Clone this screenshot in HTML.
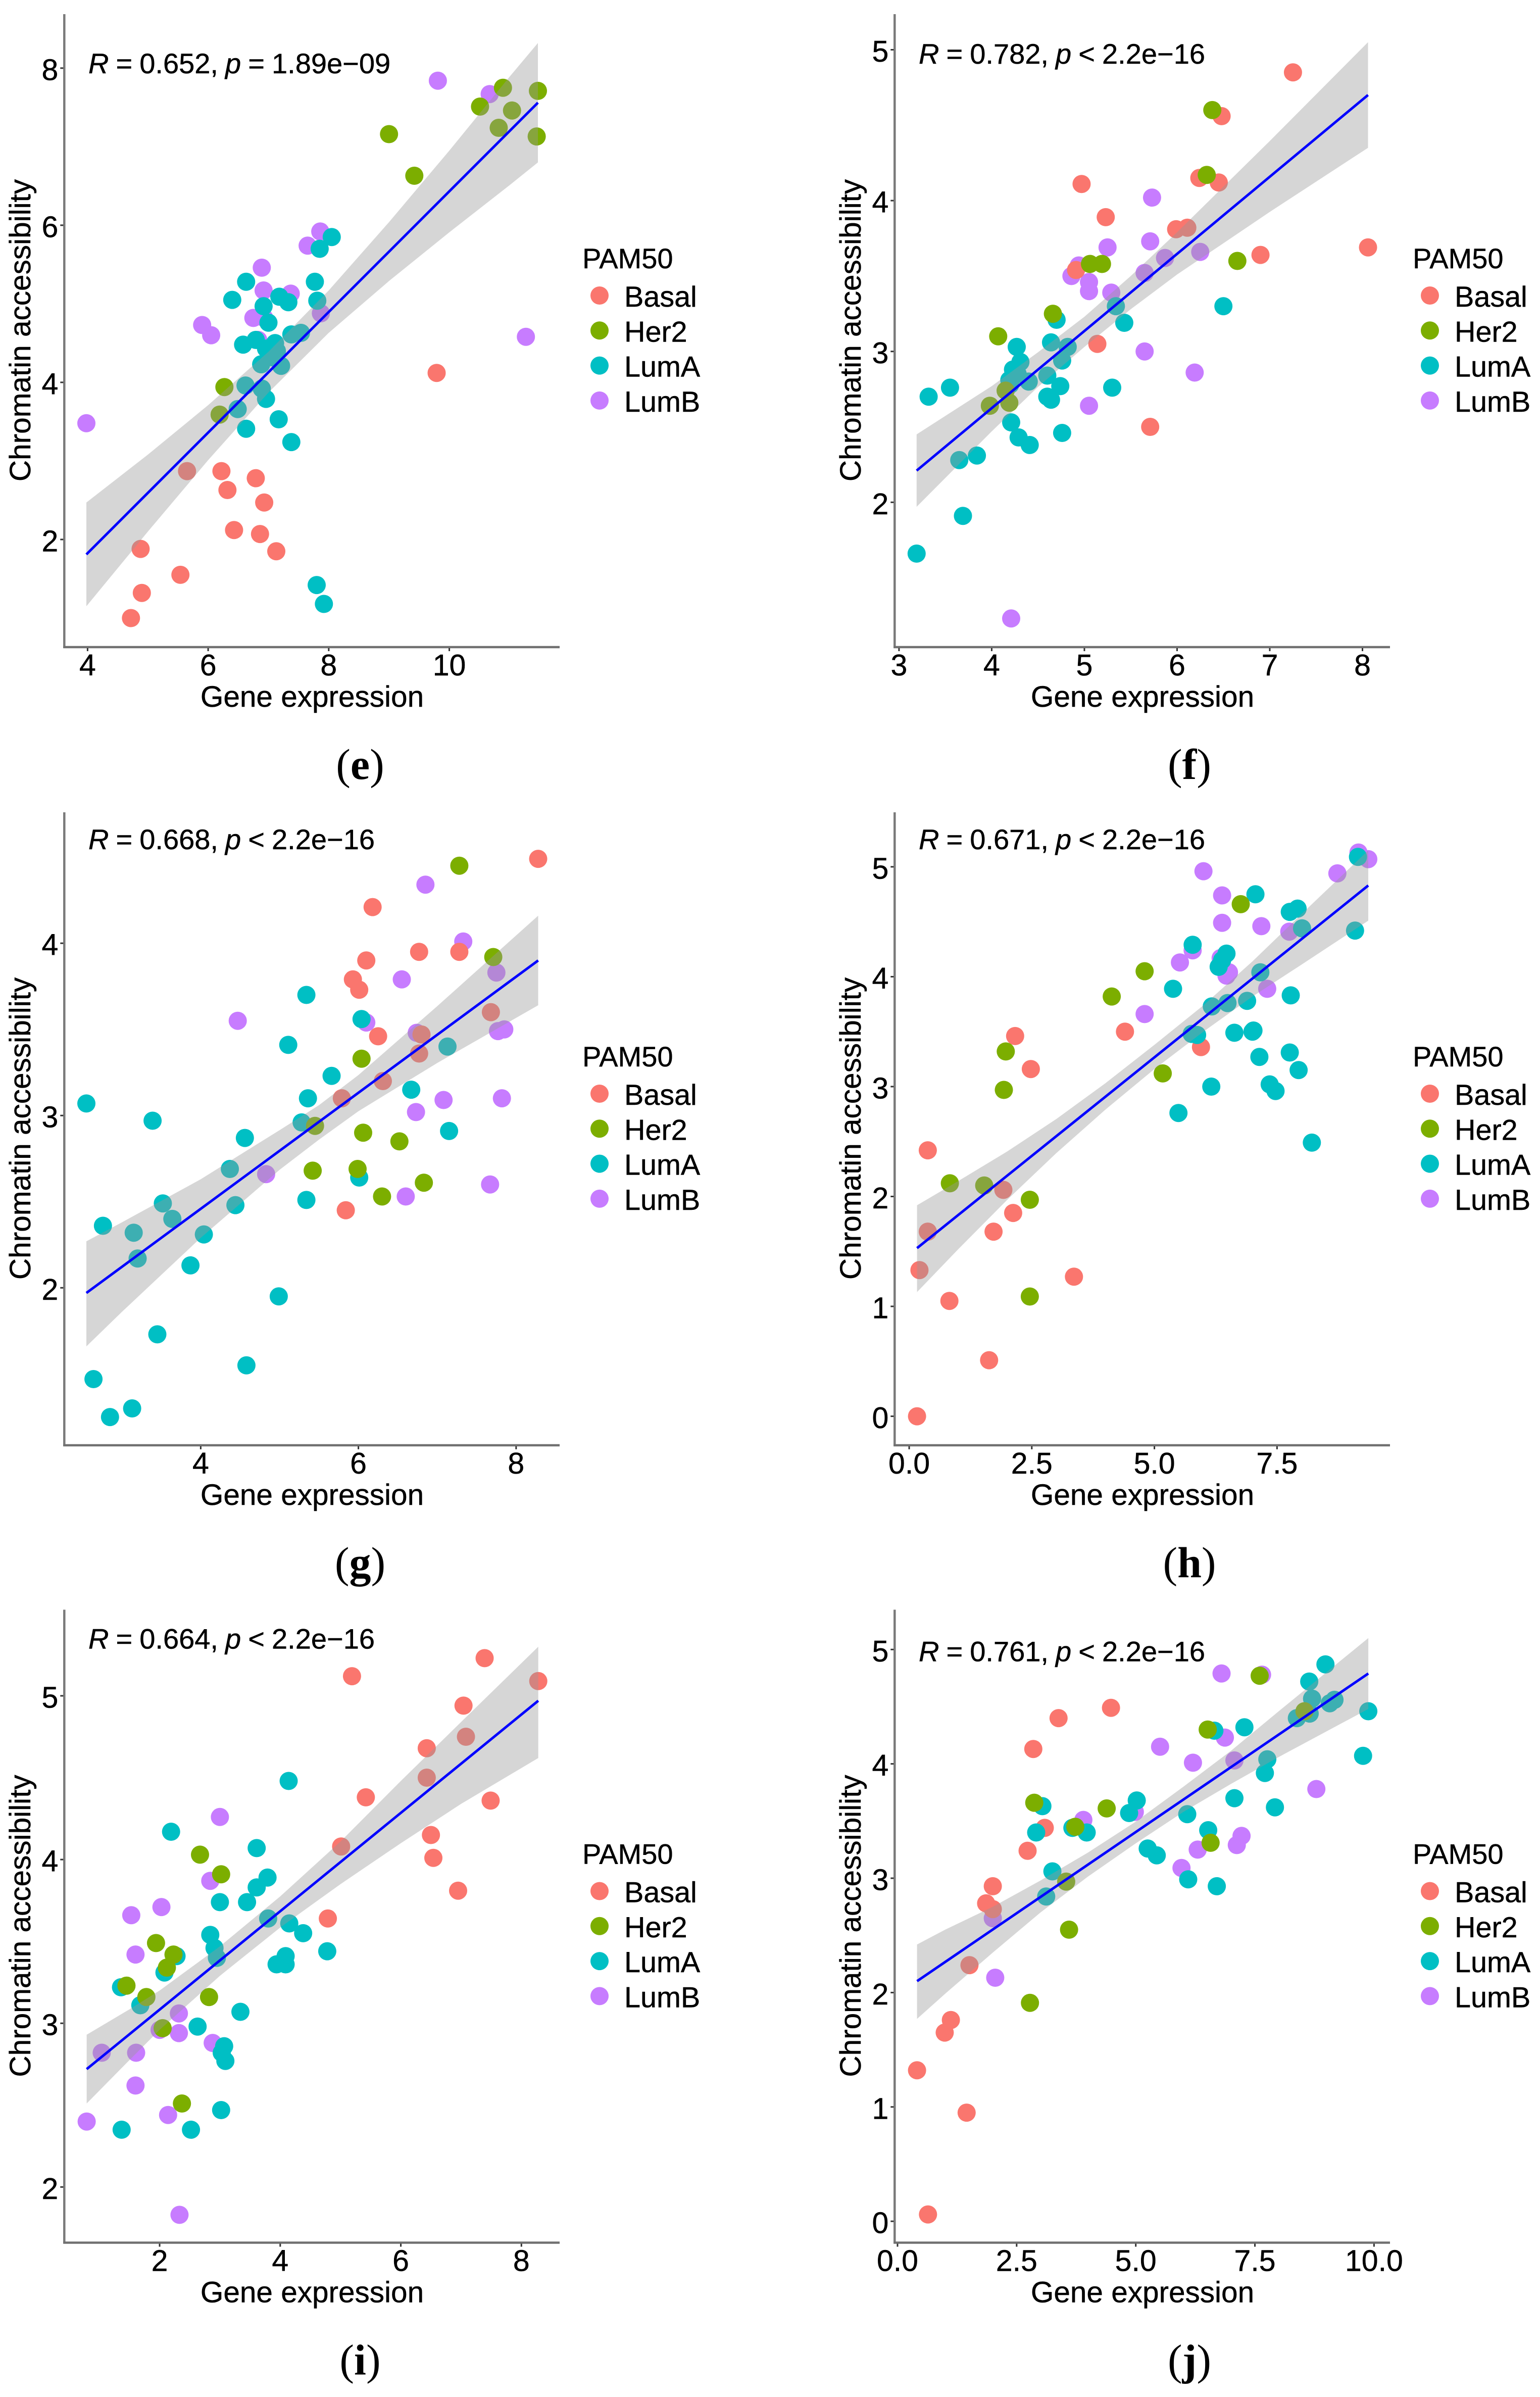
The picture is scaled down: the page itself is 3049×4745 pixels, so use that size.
<!DOCTYPE html>
<html lang="en">
<head>
<meta charset="utf-8">
<title>Gene expression vs chromatin accessibility, panels e–j</title>
<style>
html,body{margin:0;padding:0;background:#fff;}
body{width:3049px;height:4745px;overflow:hidden;}
svg{display:block;}
text{font-family:"Liberation Sans",Arial,sans-serif;fill:#000;stroke:#000;stroke-width:0.5px;}
text.cap{font-family:"Liberation Serif",serif;font-size:86px;stroke:none;}
</style>
</head>
<body>
<svg id="figure" xmlns="http://www.w3.org/2000/svg" width="3049" height="4745" viewBox="0 0 3049 4745"></svg>
<script>
// ---------- Panel e ----------
const eStat=['0.652','=','1.89e\u221209'];
const eXDomain=[3.614,11.83];
const eYDomain=[0.63,8.687];
const eXTicks=['4','6','8','10'];
const eYTicks=['2','4','6','8'];
const eBasalX=[9.79,5.65,6.22,6.32,6.79,6.93,6.43,6.86,7.13,4.88,4.90,5.54,4.72];
const eBasalY=[4.12,2.87,2.87,2.63,2.78,2.47,2.12,2.07,1.85,1.88,1.32,1.55,1.00];
const eHer2X=[10.89,11.47,10.51,11.04,10.82,11.45,9.00,9.42,6.27,6.19];
const eHer2Y=[7.75,7.71,7.51,7.46,7.24,7.13,7.16,6.63,3.94,3.59];
const eLumAX=[8.05,7.85,7.77,6.63,6.40,7.81,7.18,7.33,6.92,7.00,6.79,6.58,7.11,7.38,7.54,6.96,7.14,7.06,6.88,7.21,6.62,6.89,6.96,6.49,6.63,7.17,7.38,7.80,7.92];
const eLumAY=[5.85,5.70,5.28,5.28,5.05,5.04,5.09,5.02,4.97,4.76,4.54,4.48,4.50,4.61,4.63,4.43,4.40,4.32,4.23,4.21,3.96,3.92,3.79,3.66,3.41,3.53,3.24,1.42,1.18];
const eLumBX=[9.81,10.67,7.86,7.65,6.89,6.92,7.37,6.75,6.93,7.87,5.90,6.05,6.83,11.27,3.98];
const eLumBY=[7.84,7.67,5.92,5.74,5.46,5.17,5.13,4.82,4.82,4.88,4.73,4.60,4.54,4.58,3.48];
const eFitX=[3.98,11.47];
const eFitY=[1.81,7.56];
const eBandX=[3.98,5,6,7,8,9,10,11,11.47];
const eBandHi=[2.47,3.08,3.71,4.39,5.17,6.04,6.95,7.89,8.32];
const eBandLo=[1.15,2.10,3.01,3.87,4.63,5.29,5.91,6.51,6.80];

// ---------- Panel f ----------
const fStat=['0.782','<','2.2e\u221216'];
const fXDomain=[2.953,8.297];
const fYDomain=[1.04,5.236];
const fXTicks=['3','4','5','6','7','8'];
const fYTicks=['2','3','4','5'];
const fBasalX=[7.25,6.48,4.97,6.24,6.45,5.23,5.99,6.11,6.90,8.06,4.91,5.14,5.71];
const fBasalY=[4.85,4.56,4.11,4.15,4.12,3.89,3.81,3.82,3.64,3.69,3.54,3.05,2.50];
const fHer2X=[6.38,6.32,5.06,5.19,6.65,4.66,4.07,4.15,3.98,4.19];
const fHer2Y=[4.60,4.17,3.58,3.58,3.60,3.25,3.10,2.74,2.64,2.66];
const fLumAX=[6.50,5.34,5.43,4.70,4.64,4.82,4.27,4.31,4.76,4.23,4.19,4.28,4.20,4.40,4.60,4.74,5.30,4.60,4.64,3.55,3.32,4.21,4.29,4.41,4.76,3.65,3.84,3.69,3.19];
const fLumAY=[3.30,3.30,3.19,3.21,3.06,3.03,3.03,2.93,2.94,2.88,2.81,2.85,2.78,2.80,2.84,2.77,2.76,2.70,2.68,2.76,2.70,2.53,2.43,2.38,2.46,2.28,2.31,1.91,1.66];
const fLumBX=[5.73,5.71,5.25,5.87,6.25,5.65,4.94,4.86,5.05,5.05,5.29,5.65,6.19,5.05,4.21];
const fLumBY=[4.02,3.73,3.69,3.62,3.66,3.52,3.57,3.50,3.46,3.40,3.39,3.00,2.86,2.64,1.23];
const fFitX=[3.19,8.06];
const fFitY=[2.21,4.70];
const fBandX=[3.19,4,4.5,5,5.5,6,7,8.06];
const fBandHi=[2.45,2.77,2.995,3.23,3.50,3.79,4.395,5.05];
const fBandLo=[1.97,2.47,2.765,3.03,3.28,3.51,3.925,4.35];

// ---------- Panel g ----------
const gStat=['0.668','<','2.2e\u221216'];
const gXDomain=[2.27,8.552];
const gYDomain=[1.086,4.76];
const gXTicks=['4','6','8'];
const gYTicks=['2','3','4'];
const gBasalX=[8.28,6.18,6.10,6.77,7.28,5.93,6.01,7.68,6.25,6.80,6.77,6.31,5.79,5.84];
const gBasalY=[4.49,4.21,3.90,3.95,3.95,3.79,3.73,3.60,3.46,3.47,3.36,3.20,3.10,2.45];
const gHer2X=[7.28,7.71,6.04,5.45,6.06,6.52,5.42,5.99,6.83,6.30];
const gHer2Y=[4.45,3.92,3.33,2.94,2.90,2.85,2.68,2.69,2.61,2.53];
const gLumAX=[5.34,6.04,5.11,5.66,5.36,6.67,7.13,7.15,5.28,2.55,3.39,4.56,4.37,6.01,5.34,4.44,3.52,3.64,2.76,3.15,4.04,3.20,3.87,4.99,3.45,4.58,2.64,3.13,2.85];
const gLumAY=[3.70,3.56,3.41,3.23,3.10,3.15,3.40,2.91,2.96,3.07,2.97,2.87,2.69,2.64,2.51,2.48,2.49,2.40,2.36,2.32,2.31,2.17,2.13,1.95,1.73,1.55,1.47,1.30,1.25];
const gLumBX=[6.85,7.33,6.55,7.75,4.47,6.10,6.74,7.77,7.85,7.82,7.08,6.73,4.83,7.67,6.60];
const gLumBY=[4.34,4.01,3.79,3.83,3.55,3.54,3.48,3.49,3.50,3.10,3.09,3.02,2.66,2.60,2.53];
const gFitX=[2.55,8.28];
const gFitY=[1.97,3.90];
const gBandX=[2.55,3,4,5,5.5,6,7,8.28];
const gBandHi=[2.27,2.38,2.63,2.915,3.06,3.235,3.635,4.16];
const gBandLo=[1.66,1.86,2.29,2.685,2.86,3.025,3.305,3.64];

// ---------- Panel h ----------
const hStat=['0.671','<','2.2e\u221216'];
const hXDomain=[-0.296,9.803];
const hYDomain=[-0.264,5.496];
const hXTicks=['0.0','2.5','5.0','7.5'];
const hYTicks=['0','1','2','3','4','5'];
const hBasalX=[0.16,0.21,0.82,1.63,3.36,1.72,0.38,2.12,1.92,0.38,2.16,2.48,4.40,5.95];
const hBasalY=[0.00,1.33,1.05,0.51,1.27,1.68,1.68,1.85,2.06,2.42,3.46,3.16,3.50,3.36];
const hHer2X=[0.83,1.53,2.46,2.46,1.93,1.97,4.13,4.80,5.17,6.76];
const hHer2Y=[2.12,2.10,1.97,1.09,2.97,3.32,3.82,4.05,3.12,4.66];
const hLumAX=[5.49,6.16,8.21,7.47,7.35,7.14,7.76,7.94,7.00,7.02,6.63,5.76,5.87,6.17,6.49,6.89,7.78,5.38,6.31,7.16,6.47,6.38,5.78,8.01,9.09,7.76,7.92,7.06,9.15];
const hLumAY=[2.76,3.00,2.49,2.96,3.02,3.27,3.31,3.15,3.50,3.51,3.49,3.48,3.47,3.73,3.76,3.78,3.83,3.89,4.09,4.04,4.21,4.15,4.29,4.44,4.42,4.59,4.62,4.75,5.09];
const hLumBX=[6.00,6.38,6.38,7.18,7.75,8.73,9.16,9.36,5.78,5.52,6.35,6.52,6.47,7.30,4.80];
const hLumBY=[4.96,4.74,4.49,4.46,4.41,4.94,5.13,5.07,4.24,4.13,4.17,4.04,4.01,3.89,3.66];
const hFitX=[0.16,9.36];
const hFitY=[1.53,4.83];
const hBandX=[0.16,1,2,3,4,5,6,7,8,9.36];
const hBandHi=[1.92,2.14,2.41,2.705,3.03,3.38,3.74,4.14,4.57,5.15];
const hBandLo=[1.13,1.52,1.97,2.395,2.79,3.16,3.50,3.82,4.11,4.51];

// ---------- Panel i ----------
const iStat=['0.664','<','2.2e\u221216'];
const iXDomain=[0.419,8.634];
const iYDomain=[1.66,5.526];
const iXTicks=['2','4','6','8'];
const iYTicks=['2','3','4','5'];
const iBasalX=[7.39,5.19,8.28,7.04,7.08,6.43,6.43,5.42,7.49,6.50,5.01,6.54,6.95,4.79];
const iBasalY=[5.23,5.12,5.09,4.94,4.75,4.68,4.50,4.38,4.36,4.15,4.08,4.01,3.81,3.64];
const iHer2X=[2.67,3.02,1.94,2.23,2.12,1.45,1.78,2.82,2.05,2.37];
const iHer2Y=[4.03,3.91,3.49,3.42,3.34,3.23,3.16,3.16,2.97,2.51];
const iLumAX=[4.14,2.19,3.61,3.79,3.61,3.00,3.45,3.80,4.15,4.38,2.84,2.91,2.95,2.28,2.08,4.09,4.78,3.94,4.09,1.36,1.68,3.34,2.63,3.07,3.03,3.09,3.02,1.37,2.52];
const iLumAY=[4.48,4.17,4.07,3.89,3.83,3.74,3.74,3.64,3.61,3.55,3.54,3.46,3.40,3.41,3.31,3.41,3.44,3.36,3.36,3.22,3.11,3.07,2.98,2.86,2.82,2.77,2.47,2.35,2.35];
const iLumBX=[3.00,2.84,2.03,1.53,1.60,2.32,2.32,2.00,2.88,1.04,1.61,1.60,2.14,0.79,2.33];
const iLumBY=[4.26,3.87,3.71,3.66,3.42,3.06,2.94,2.96,2.88,2.82,2.82,2.62,2.44,2.40,1.83];
const iFitX=[0.79,8.28];
const iFitY=[2.72,4.97];
const iBandX=[0.79,1.5,2,3,4,5,6,7,8.28];
const iBandHi=[2.93,3.085,3.20,3.47,3.775,4.11,4.48,4.84,5.30];
const iBandLo=[2.51,2.775,2.96,3.29,3.585,3.85,4.10,4.34,4.62];

// ---------- Panel j ----------
const jStat=['0.761','<','2.2e\u221216'];
const jXDomain=[-0.06,10.335];
const jYDomain=[-0.187,5.348];
const jXTicks=['0.0','2.5','5.0','7.5','10.0'];
const jYTicks=['0','1','2','3','4','5'];
const jBasalX=[0.64,0.41,1.45,0.99,1.12,1.51,2.00,1.86,2.00,2.73,3.09,2.85,3.38,4.48];
const jBasalY=[0.06,1.32,0.95,1.65,1.76,2.24,2.73,2.78,2.93,3.24,3.44,4.13,4.40,4.49];
const jHer2X=[2.78,3.60,3.54,3.73,2.87,4.39,6.57,6.51,7.60,8.54];
const jHer2Y=[1.91,2.55,2.97,3.45,3.66,3.61,3.31,4.30,4.77,4.46];
const jLumAX=[3.12,3.25,2.91,3.04,3.67,3.97,4.86,5.02,5.25,5.44,6.08,6.10,6.70,6.52,6.65,7.07,7.92,7.71,7.76,7.28,8.38,8.65,8.70,8.64,8.98,9.07,9.17,9.88,9.77];
const jLumAY=[2.84,3.06,3.40,3.63,3.44,3.40,3.57,3.68,3.26,3.20,3.56,2.99,2.93,3.42,4.29,3.70,3.62,3.92,4.04,4.32,4.40,4.44,4.57,4.72,4.87,4.53,4.56,4.46,4.07];
const jLumBX=[2.00,2.05,3.90,4.98,5.51,6.20,6.80,7.65,6.87,7.07,8.79,7.22,7.12,6.30,5.96];
const jLumBY=[2.65,2.13,3.51,3.58,4.15,4.01,4.79,4.78,4.23,4.03,3.78,3.37,3.29,3.25,3.09];
const jFitX=[0.41,9.88];
const jFitY=[2.10,4.79];
const jBandX=[0.41,1,2,3,4,5,6,7,8,9.88];
const jBandHi=[2.42,2.55,2.75,2.98,3.225,3.495,3.80,4.115,4.46,5.10];
const jBandLo=[1.77,1.99,2.35,2.70,3.015,3.305,3.58,3.825,4.06,4.48];

// ---------- Shared labels ----------
const legendLabels=['Basal','Her2','LumA','LumB'];
const legendColors=['#FA766E','#7CAE00','#00BFC4','#C77CFF'];
const xAxisTitle='Gene expression';
const yAxisTitle='Chromatin accessibility';
const legendTitle='PAM50';

// ---------- Layout ----------
const NS='http://www.w3.org/2000/svg';
const root=document.getElementById('figure');
const colShift=[0,1644];
const rowShift=[0,1580,3158.5];
const plot={left:127.3,right:1108,top:28,bottom:1281};
const statBaselines={e:145,f:126,g:101,h:101,i:105,j:130};
const captionCentre=[713,2355];

function node(tag,parent,attrs,text){
  const el=document.createElementNS(NS,tag);
  for(const k in attrs){el.setAttribute(k,attrs[k]);}
  if(text!==undefined){el.textContent=text;}
  parent.appendChild(el);
  return el;
}
function scaleLinear(domain,range){
  return v=>range[0]+(v-domain[0])*(range[1]-range[0])/(domain[1]-domain[0]);
}

function drawPanel(p){
  const dx=colShift[p.col], dy=rowShift[p.row];
  const L=plot.left+dx, R=plot.right+dx, T=plot.top+dy, B=plot.bottom+dy;
  const x=scaleLinear(p.xDomain,[L,R]);
  const y=scaleLinear(p.yDomain,[B,T]);

  const g=node('g',root,{});
  
  

  // points: drawn first, the confidence band sits over them
  const order=[3,0,2,1];
  order.forEach(i=>{
    const sg=node('g',g,{fill:legendColors[i]});
    
    
    p.series[i][0].forEach((vx,j)=>{
      const c=node('circle',sg,{cx:x(vx).toFixed(1),cy:y(p.series[i][1][j]).toFixed(1),r:18});
      
      
    });
  });

  // confidence band
  const upper=p.bandX.map((v,i)=>x(v).toFixed(1)+','+y(p.bandHi[i]).toFixed(1));
  const lower=p.bandX.map((v,i)=>x(v).toFixed(1)+','+y(p.bandLo[i]).toFixed(1)).reverse();
  const band=node('polygon',g,{points:upper.concat(lower).join(' '),fill:'#999999','fill-opacity':0.4});
  
  

  // regression line
  const fit=node('line',g,{x1:x(p.fitX[0]),y1:y(p.fitY[0]),x2:x(p.fitX[1]),y2:y(p.fitY[1]),stroke:'#0000ff','stroke-width':5});
  
  

  // axes
  const yAxis=node('line',g,{x1:L,y1:T,x2:L,y2:B+2,stroke:'#7a7a7a','stroke-width':4.5});
  
  
  const xAxis=node('line',g,{x1:L-2,y1:B,x2:R,y2:B,stroke:'#707070','stroke-width':4.5});
  
  

  p.xTicks.forEach(lbl=>{
    const px=x(parseFloat(lbl));
    const t=node('line',g,{x1:px,y1:B+2,x2:px,y2:B+8,stroke:'#333','stroke-width':3});
    
    
    const tx=node('text',g,{x:px,y:B+56,'text-anchor':'middle','font-size':59},lbl);
    
    
  });
  p.yTicks.forEach(lbl=>{
    const py=y(parseFloat(lbl));
    const t=node('line',g,{x1:L-8,y1:py,x2:L-2,y2:py,stroke:'#333','stroke-width':3});
    
    
    const tx=node('text',g,{x:L-12,y:py+23.5,'text-anchor':'end','font-size':59},lbl);
    
    
  });

  // axis titles
  const xt=node('text',g,{x:618+dx,y:1399+dy,'text-anchor':'middle','font-size':58.5},xAxisTitle);
  
  
  const yt=node('text',g,{transform:'translate('+(60+dx)+','+(654+dy)+') rotate(-90)','text-anchor':'middle','font-size':58.5},yAxisTitle);
  
  

  // correlation annotation
  const st=node('text',g,{x:175+dx,y:statBaselines[p.id]+dy,'font-size':56,'word-spacing':-1.5});
  
  
  node('tspan',st,{'font-style':'italic'},'R');
  node('tspan',st,{},' = '+p.stat[0]+', ');
  node('tspan',st,{'font-style':'italic'},'p');
  node('tspan',st,{},' '+p.stat[1]+' '+p.stat[2]);

  // legend
  const lg=node('g',g,{});
  
  
  const ttl=node('text',lg,{x:1153+dx,y:531+dy,'font-size':56},legendTitle);
  
  
  legendLabels.forEach((name,i)=>{
    const c=node('circle',lg,{cx:1187+dx,cy:585+i*69.3+dy,r:18,fill:legendColors[i]});
    
    
    const t=node('text',lg,{x:1236+dx,y:607+i*69.3+dy,'font-size':57.5},name);
    
    
  });

  // panel caption: regular parentheses around a bold letter
  const cap=node('text',g,{x:captionCentre[p.col],y:1542+dy,'text-anchor':'middle','class':'cap'});
  
  
  node('tspan',cap,{},'(');
  node('tspan',cap,{'font-weight':'bold'},p.id);
  node('tspan',cap,{},')');
}

[
 {id:'e',col:0,row:0,stat:eStat,xDomain:eXDomain,yDomain:eYDomain,xTicks:eXTicks,yTicks:eYTicks,fitX:eFitX,fitY:eFitY,bandX:eBandX,bandHi:eBandHi,bandLo:eBandLo,series:[[eBasalX,eBasalY],[eHer2X,eHer2Y],[eLumAX,eLumAY],[eLumBX,eLumBY]]},
 {id:'f',col:1,row:0,stat:fStat,xDomain:fXDomain,yDomain:fYDomain,xTicks:fXTicks,yTicks:fYTicks,fitX:fFitX,fitY:fFitY,bandX:fBandX,bandHi:fBandHi,bandLo:fBandLo,series:[[fBasalX,fBasalY],[fHer2X,fHer2Y],[fLumAX,fLumAY],[fLumBX,fLumBY]]},
 {id:'g',col:0,row:1,stat:gStat,xDomain:gXDomain,yDomain:gYDomain,xTicks:gXTicks,yTicks:gYTicks,fitX:gFitX,fitY:gFitY,bandX:gBandX,bandHi:gBandHi,bandLo:gBandLo,series:[[gBasalX,gBasalY],[gHer2X,gHer2Y],[gLumAX,gLumAY],[gLumBX,gLumBY]]},
 {id:'h',col:1,row:1,stat:hStat,xDomain:hXDomain,yDomain:hYDomain,xTicks:hXTicks,yTicks:hYTicks,fitX:hFitX,fitY:hFitY,bandX:hBandX,bandHi:hBandHi,bandLo:hBandLo,series:[[hBasalX,hBasalY],[hHer2X,hHer2Y],[hLumAX,hLumAY],[hLumBX,hLumBY]]},
 {id:'i',col:0,row:2,stat:iStat,xDomain:iXDomain,yDomain:iYDomain,xTicks:iXTicks,yTicks:iYTicks,fitX:iFitX,fitY:iFitY,bandX:iBandX,bandHi:iBandHi,bandLo:iBandLo,series:[[iBasalX,iBasalY],[iHer2X,iHer2Y],[iLumAX,iLumAY],[iLumBX,iLumBY]]},
 {id:'j',col:1,row:2,stat:jStat,xDomain:jXDomain,yDomain:jYDomain,xTicks:jXTicks,yTicks:jYTicks,fitX:jFitX,fitY:jFitY,bandX:jBandX,bandHi:jBandHi,bandLo:jBandLo,series:[[jBasalX,jBasalY],[jHer2X,jHer2Y],[jLumAX,jLumAY],[jLumBX,jLumBY]]}
].forEach(drawPanel);
</script>
</body>
</html>
